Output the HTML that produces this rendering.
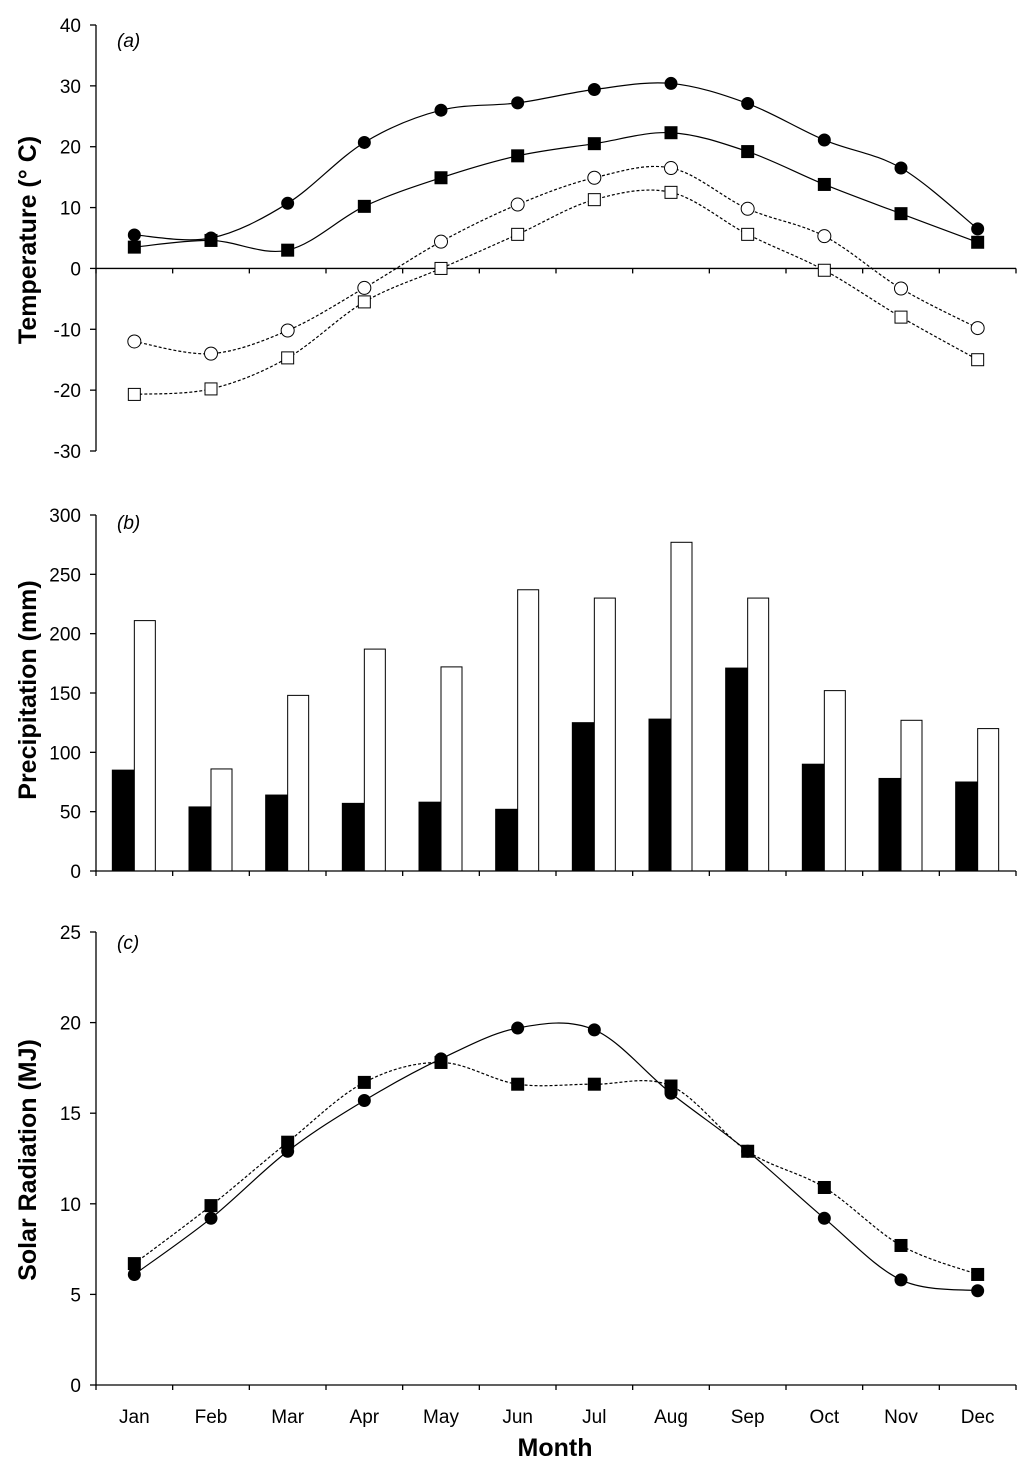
<!DOCTYPE html>
<html><head><meta charset="utf-8"><style>
body{margin:0;background:#fff}
svg{font-family:"Liberation Sans",Arial,sans-serif}
</style></head><body>
<svg id="c" width="1024" height="1470" viewBox="0 0 1024 1470"></svg>
<script>
const months=["Jan","Feb","Mar","Apr","May","Jun","Jul","Aug","Sep","Oct","Nov","Dec"];
const tMaxHi=[5.5,5,10.7,20.7,26,27.2,29.4,30.4,27.1,21.1,16.5,6.5];
const tMeanHi=[3.5,4.6,3,10.2,14.9,18.5,20.5,22.3,19.2,13.8,9,4.3];
const tMaxLo=[-12,-14,-10.2,-3.2,4.4,10.5,14.9,16.5,9.8,5.3,-3.3,-9.8];
const tMeanLo=[-20.7,-19.8,-14.7,-5.5,0,5.6,11.3,12.5,5.6,-0.3,-8,-15];
const precipA=[85,54,64,57,58,52,125,128,171,90,78,75];
const precipB=[211,86,148,187,172,237,230,277,230,152,127,120];
const solarA=[6.1,9.2,12.9,15.7,18,19.7,19.6,16.1,12.9,9.2,5.8,5.2];
const solarB=[6.7,9.9,13.4,16.7,17.8,16.6,16.6,16.5,12.9,10.9,7.7,6.1];
const tempTicks=[40,30,20,10,0,-10,-20,-30];
const precTicks=[300,250,200,150,100,50,0];
const solTicks=[25,20,15,10,5,0];

const svg=document.getElementById('c');
const NS='http://www.w3.org/2000/svg';
function mk(t,a,txt){const e=document.createElementNS(NS,t);for(const k in a)e.setAttribute(k,a[k]);if(txt!==undefined)e.textContent=txt;svg.appendChild(e);return e;}
const X0=96,X1=1016,step=(X1-X0)/12;
const xc=i=>X0+step*(i+0.5);
function scale(v0,p0,v1,p1){return v=>p0+(v-v0)*(p1-p0)/(v1-v0);}
const ya=scale(40,25,-30,451), yb=scale(300,515,0,871), yc=scale(25,932,0,1385);

function yAxis(y,ticks,top,bot,name,title,tcy,tx){
  const l=mk('line',{x1:X0,y1:top,x2:X0,y2:bot,stroke:'#000','stroke-width':1.3});
  
  ticks.forEach(t=>{mk('line',{x1:X0-6,y1:y(t),x2:X0,y2:y(t),stroke:'#000','stroke-width':1.3});
    const e=mk('text',{x:X0-15,y:y(t)+7,'text-anchor':'end','font-size':19},String(t));
    });
  const tt=mk('text',{x:tx,y:tcy,'text-anchor':'middle','font-size':25,'font-weight':'bold',transform:`rotate(-90 ${tx} ${tcy})`},title);
  
}
function xAxis(yp,name){
  const l=mk('line',{x1:X0,y1:yp,x2:X1,y2:yp,stroke:'#000','stroke-width':1.3});
  
  for(let i=0;i<=12;i++)mk('line',{x1:X0+step*i,y1:yp,x2:X0+step*i,y2:yp+5,stroke:'#000','stroke-width':1.3});
}
function label(t,x,y,name){const e=mk('text',{x:x,y:y,'font-size':19,'font-style':'italic'},t);
  }
function smooth(vals,y){
  const p=vals.map((v,i)=>[xc(i),y(v)]);let d=`M${p[0][0]},${p[0][1]}`;
  for(let i=0;i<p.length-1;i++){const a=p[Math.max(0,i-1)],b=p[i],c=p[i+1],e=p[Math.min(p.length-1,i+2)];
    d+=` C${b[0]+(c[0]-a[0])/6},${b[1]+(c[1]-a[1])/6} ${c[0]-(e[0]-b[0])/6},${c[1]-(e[1]-b[1])/6} ${c[0]},${c[1]}`;}
  return d;
}
function series(vals,y,shape,fill,dash,name){
  const p=mk('path',{d:smooth(vals,y),fill:'none',stroke:'#000','stroke-width':1.2,'stroke-dasharray':dash?'3,2':'none'});
  
  vals.forEach((v,i)=>{let m;
    if(shape==='c')m=mk('circle',{cx:xc(i),cy:y(v),r:fill?6:6.5,fill:fill?'#000':'#fff',stroke:'#000','stroke-width':1});
    else m=mk('rect',{x:xc(i)-6,y:y(v)-6,width:12,height:12,fill:fill?'#000':'#fff',stroke:'#000','stroke-width':1});
    });
}
// Panel a
yAxis(ya,tempTicks,25,451,'temperature','Temperature (° C)',240,36);
xAxis(ya(0),'temperature');
label('(a)',117,47,'panel-a-label');
series(tMaxLo,ya,'c',false,true,'open-circle-series');
series(tMeanLo,ya,'s',false,true,'open-square-series');
series(tMaxHi,ya,'c',true,false,'filled-circle-series');
series(tMeanHi,ya,'s',true,false,'filled-square-series');
// Panel b
yAxis(yb,precTicks,515,871,'precipitation','Precipitation (mm)',690,36);
label('(b)',117,529,'panel-b-label');
precipA.forEach((v,i)=>{const r=mk('rect',{x:xc(i)-22,y:yb(v),width:22,height:yb(0)-yb(v),fill:'#000',stroke:'#000','stroke-width':1});
  });
precipB.forEach((v,i)=>{const r=mk('rect',{x:xc(i),y:yb(v),width:21,height:yb(0)-yb(v),fill:'#fff',stroke:'#000','stroke-width':1});
  });
xAxis(yb(0),'precipitation');
// Panel c
yAxis(yc,solTicks,932,1385,'solar','Solar Radiation (MJ)',1160,36);
label('(c)',117,949,'panel-c-label');
xAxis(yc(0),'solar');
series(solarB,yc,'s',true,true,'solar-square-series');
series(solarA,yc,'c',true,false,'solar-circle-series');
months.forEach((m,i)=>{const e=mk('text',{x:xc(i),y:1423,'text-anchor':'middle','font-size':19},m);
  });
const mt=mk('text',{x:555,y:1456,'text-anchor':'middle','font-size':25,'font-weight':'bold'},'Month');

</script>
</body></html>
